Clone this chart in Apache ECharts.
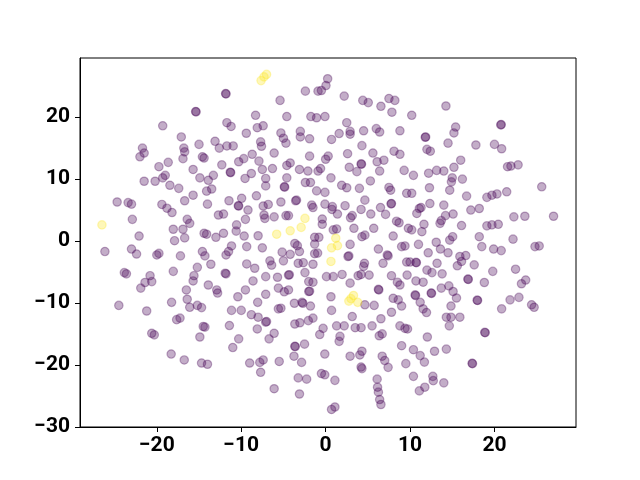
<!DOCTYPE html>
<html>
<head>
<meta charset="utf-8">
<script src="https://cdn.jsdelivr.net/npm/echarts@6/dist/echarts.min.js"></script>
<style>
  html, body { margin: 0; padding: 0; background: #fff; }
  #chart { width: 640px; height: 480px; }
</style>
</head>
<body>
<div id="chart"></div>
<script>
// two classes of an embedding
const purplePts = [
  [-11.85,23.8],[-11.8,23.75],[-15.4,20.9],[-15.35,20.85],[-19.3,18.6],[-11.7,19.1],[-11.2,18.5],[-9.4,17.4],[-17.1,16.8],
  [-21.7,15.0],[-21.5,14.2],[-22.0,13.6],[-16.8,15.0],[-16.7,14.4],[-15.0,15.6],[-13.1,16.1],[-12.6,15.0],[-11.7,15.35],
  [-10.95,15.35],[-16.9,13.3],[-14.6,13.6],[-14.4,13.4],[-18.65,12.7],[-19.75,12.0],[-15.7,11.55],[-12.3,12.3],[-10.3,12.8],
  [-9.7,13.3],[-11.3,11.1],[-11.25,11.05],[-19.0,10.6],[-13.3,10.6],
  [0.24,26.2],[0.04,25.1],[-2.4,24.2],[-0.9,24.2],[-0.5,24.3],[2.2,23.4],[-5.4,22.7],[4.4,22.7],[5.05,22.35],[7.5,23.0],
  [8.2,22.7],[6.55,21.75],[7.85,20.8],[10.2,20.3],[-8.3,20.3],[-4.6,20.1],[-1.75,20.1],[-1.07,19.9],[-0.08,20.1],[2.5,19.1],
  [-8.1,18.3],[-7.4,18.6],[-5.3,17.45],[-5.0,16.6],[-4.7,15.8],[-3.0,17.7],[-3.0,16.8],[-1.9,16.5],[0.7,16.4],[1.6,17.35],
  [2.9,17.7],[2.9,17.25],[4.5,17.8],[6.0,18.15],[6.4,17.6],[8.8,17.8],[-7.7,16.0],[-7.6,15.3],[-6.1,14.2],[-8.7,14.0],
  [-7.9,12.9],[-1.9,13.7],[0.3,13.7],[0.0,13.2],[2.6,14.1],[4.3,15.4],[5.6,14.2],[6.1,12.8],[6.9,13.05],[8.1,14.5],
  [8.8,14.0],[-4.6,12.2],[-4.2,12.6],[-6.3,11.7],[-7.5,11.55],[-3.1,11.55],[-2.1,11.3],[-0.9,11.3],[-0.6,11.7],[2.8,11.9],
  [4.2,12.45],[4.25,12.4],[3.7,11.2],[6.4,11.3],[9.3,11.4],[-8.8,10.9],[10.4,10.6],
  [14.25,21.8],[20.8,18.8],[20.75,18.75],[15.4,18.4],[15.2,17.45],[11.85,16.8],[11.8,16.75],[12.0,14.8],[12.4,14.5],[14.5,15.8],
  [17.8,15.5],[20.0,15.6],[20.85,14.9],[16.0,13.05],[15.2,11.9],[12.2,10.95],[13.15,11.4],[14.0,11.3],[21.55,12.0],[21.95,12.1],
  [22.8,12.3],
  [-21.5,9.65],[-20.2,9.65],[-19.3,10.2],[-18.45,9.0],[-17.4,8.5],[-14.9,10.2],[-13.9,9.8],[-13.5,8.4],[-14.1,8.05],[-9.55,10.1],
  [-24.7,6.3],[-23.4,6.2],[-23.0,5.95],[-22.9,3.5],[-22.1,0.8],[-26.15,-1.7],[-23.0,-1.3],[-22.4,-2.1],[-19.4,5.9],[-18.8,5.3],
  [-18.2,4.6],[-16.7,6.5],[-15.7,7.4],[-14.0,5.95],[-11.45,6.5],[-9.95,6.9],[-10.35,5.7],[-10.3,5.65],[-12.7,4.2],[-12.1,4.35],
  [-16.4,3.5],[-16.1,2.85],[-18.05,1.9],[-16.9,1.9],[-16.7,0.5],[-17.9,0.05],[-14.4,1.25],[-14.1,1.1],[-13.0,0.6],[-12.1,1.25],
  [-10.55,2.6],[-10.6,1.6],[-9.65,0.8],[-9.5,3.5],[-11.15,-0.8],[-17.2,-2.4],[-20.0,-2.25],[-19.75,-2.0],[-14.6,-1.7],[-14.3,-2.4],
  [-11.8,-2.25],[-11.5,-1.7],[-9.35,-0.9],[-15.2,-4.25],[-13.6,-3.75],[-23.85,-5.1],[-23.6,-5.3],[-20.8,-5.6],[-21.4,-6.7],[-20.6,-6.55],
  [-21.9,-7.6],[-18.05,-4.9],[-15.6,-5.6],[-15.7,-6.45],[-13.9,-7.1],[-11.9,-5.2],[-11.8,-5.3],[-16.5,-7.9],[-12.9,-7.9],[-12.8,-8.4],
  [-10.4,-9.0],[-9.5,-7.9],[-9.35,-3.7],
  [-7.1,10.1],[-7.1,8.9],[-4.6,10.2],[-2.4,9.45],[-1.8,9.45],[-1.07,8.1],[-0.08,7.85],[0.63,10.2],[1.9,9.0],[2.5,8.6],
  [4.0,8.5],[5.3,9.7],[7.5,8.65],[7.7,8.2],[9.6,7.7],[10.2,7.7],[-4.9,8.75],[-4.85,8.7],[-8.2,7.3],[-7.4,5.65],
  [-6.8,5.9],[-5.3,6.3],[-3.55,6.5],[-3.45,6.6],[-1.65,5.8],[-1.5,5.4],[-0.08,5.95],[0.8,5.55],[0.75,5.1],[2.3,5.7],
  [4.2,5.1],[4.65,6.6],[6.5,5.4],[7.8,6.05],[7.75,6.0],[-9.2,5.0],[-7.3,4.2],[-7.2,3.65],[-6.1,3.9],[-4.7,4.1],
  [-4.4,4.1],[-0.4,3.55],[-0.4,2.7],[1.4,4.35],[3.15,4.1],[2.95,3.75],[5.35,4.35],[7.1,4.3],[8.4,3.2],[8.7,2.95],
  [9.8,2.05],[10.2,1.8],[-8.0,0.85],[-1.3,0.6],[-0.8,0.6],[0.9,1.8],[1.3,1.95],[3.35,2.05],[4.3,0.7],[4.65,0.95],
  [5.7,2.05],[8.0,0.8],[-7.5,-1.1],[-3.65,-0.4],[-3.35,-0.75],[-5.15,-1.8],[-4.2,-2.15],[-3.1,-1.7],[-1.3,-0.5],[-1.3,-2.05],
  [-0.95,-1.95],[2.65,-2.5],[2.75,-2.4],[2.9,-0.55],[4.6,-3.6],[4.5,-4.1],[6.25,-1.3],[7.3,-2.25],[7.4,-2.4],[9.0,-0.9],
  [9.4,-0.8],[9.6,-3.4],[10.0,-3.4],[-6.6,-3.2],[-6.4,-3.9],[-5.0,-3.2],[-3.25,-3.6],[-2.65,-3.5],[-1.5,-3.75],[-7.1,-5.75],
  [-5.7,-5.85],[-8.4,-4.4],[-4.4,-5.5],[-4.3,-5.45],[-2.45,-5.1],[-2.0,-6.55],[-1.5,-6.65],[0.1,-5.75],[0.9,-5.75],[1.95,-5.4],
  [2.9,-6.8],[3.85,-5.6],[4.2,-5.4],[5.15,-5.5],[6.25,-7.8],[6.3,-7.9],[6.8,-3.6],[7.8,-5.6],[8.5,-6.65],[8.8,-7.1],
  [9.65,-5.5],[-8.6,-6.45],[-5.6,-7.6],[-4.9,-8.2],[-4.4,-7.9],[-7.1,-8.6],[-2.0,-8.15],[-1.9,-8.1],[0.63,-9.0],
  [15.0,10.2],[14.9,9.55],[14.7,8.2],[16.2,10.0],[12.3,8.6],[16.7,7.25],[19.1,7.05],[19.7,7.4],[20.3,7.6],[21.45,7.95],
  [25.6,8.75],[12.35,6.05],[11.1,5.25],[11.3,5.4],[14.0,5.8],[17.2,5.0],[18.2,5.25],[22.3,3.9],[23.6,4.0],[27.0,4.0],
  [10.8,4.45],[14.2,4.1],[15.1,4.35],[13.7,3.3],[13.55,2.85],[11.65,2.7],[16.1,2.5],[19.1,2.45],[19.7,2.6],[20.45,2.7],
  [11.4,1.5],[15.05,0.7],[14.7,0.15],[18.2,0.7],[22.2,0.3],[24.8,-0.9],[25.3,-0.8],[11.0,-0.55],[13.1,-0.2],[13.6,-1.3],
  [14.5,-1.9],[18.5,-0.9],[19.9,-1.3],[20.8,-1.55],[12.15,-1.9],[15.9,-2.5],[16.6,-2.35],[16.1,-3.3],[15.6,-4.0],[10.7,-3.45],
  [10.75,-3.5],[13.2,-3.6],[17.6,-3.85],[12.0,-4.7],[12.6,-5.1],[13.8,-5.3],[19.8,-4.9],[22.5,-4.55],[16.9,-6.2],[16.85,-6.15],
  [18.8,-6.7],[23.7,-6.3],[23.2,-6.9],[10.7,-6.45],[11.55,-6.65],[13.7,-7.6],[14.6,-7.25],[15.1,-8.15],[12.5,-8.4],[12.55,-8.45],
  [10.6,-8.7],[10.65,-8.8],
  [-24.5,-10.4],[-21.2,-11.3],[-18.25,-9.9],[-16.4,-9.4],[-16.1,-10.7],[-15.2,-10.4],[-14.7,-10.75],[-11.15,-11.2],[-10.0,-11.2],[-17.65,-12.7],
  [-17.25,-12.45],[-20.6,-14.9],[-20.3,-15.15],[-14.5,-13.8],[-14.3,-13.9],[-14.9,-15.5],[-11.4,-13.65],[-10.3,-15.8],[-11.0,-17.2],[-18.3,-18.25],
  [-16.75,-19.2],[-14.7,-19.7],[-14.0,-19.9],
  [-8.05,-9.9],[-3.7,-10.05],[-2.7,-10.05],[-2.8,-9.9],[-1.8,-10.5],[-5.6,-10.95],[-5.3,-10.85],[-8.8,-11.9],[-8.0,-12.3],[-7.1,-13.1],
  [-7.0,-13.0],[-8.1,-14.2],[-6.1,-14.9],[-6.7,-15.8],[-3.65,-13.4],[-3.05,-13.2],[-2.05,-12.85],[-1.5,-12.45],[0.7,-11.2],[4.65,-10.3],
  [5.75,-10.4],[8.0,-9.25],[8.6,-9.5],[9.0,-10.5],[7.8,-11.5],[6.55,-12.55],[3.15,-12.2],[1.3,-13.7],[2.2,-13.7],[3.5,-14.0],
  [4.2,-14.0],[5.5,-13.7],[8.8,-13.7],[9.4,-14.1],[9.7,-14.2],[6.35,-15.3],[6.7,-15.0],[-0.3,-14.1],[-0.7,-15.1],[1.7,-15.4],
  [1.6,-16.2],[-3.65,-17.0],[-3.6,-17.05],[-2.5,-16.65],[9.0,-16.9],[-0.1,-18.25],[-3.75,-18.6],[-2.85,-19.6],[2.9,-18.6],[4.05,-18.4],
  [4.3,-17.8],[6.7,-18.6],[7.0,-19.3],[7.4,-20.4],[4.2,-20.35],[4.3,-20.6],[9.5,-19.8],[-7.4,-19.2],[-7.8,-19.6],[-7.7,-21.2],
  [-9.0,-19.7],[-5.5,-19.45],[-0.5,-21.4],[-0.1,-21.6],[-3.25,-22.1],[-2.25,-22.3],[1.1,-22.5],[6.1,-22.3],[6.15,-23.6],[6.25,-24.4],
  [6.4,-25.6],[6.55,-26.4],[-6.1,-23.85],[-3.1,-24.7],[0.7,-27.2],[1.1,-26.8],
  [11.2,-9.9],[15.5,-9.2],[18.0,-9.6],[17.95,-9.55],[21.85,-9.5],[22.9,-9.1],[20.85,-10.95],[24.4,-10.3],[24.7,-10.7],[11.55,-10.95],
  [11.95,-11.55],[14.85,-10.5],[14.3,-12.3],[14.85,-12.3],[15.9,-12.3],[14.65,-13.7],[18.9,-14.8],[18.85,-14.75],[12.05,-15.5],[10.4,-17.55],
  [11.2,-18.5],[11.7,-19.55],[12.9,-17.8],[14.3,-17.45],[17.4,-19.8],[17.35,-19.75],[10.4,-21.85],[12.7,-21.85],[12.75,-22.55],[14.0,-22.9],
  [11.75,-23.6],[11.1,-24.2]
];

const yellowPts = [
  [-7.0,26.9],[-7.3,26.5],[-7.65,25.9],[-26.5,2.6],[-2.45,3.65],[-5.8,1.1],[-4.2,1.65],[-2.9,2.2],
  [1.2,0.45],[1.4,-0.75],[0.7,-1.1],[0.63,-3.3],[3.3,-8.8],[3.0,-9.3],[2.75,-9.7],[3.8,-9.9]
];

const xTicks = [-20, -10, 0, 10, 20];
const yTicks = [-30, -20, -10, 0, 10, 20];

const chart = echarts.init(document.getElementById('chart'), null, { renderer: 'canvas' });

const labelStyle = {
  color: '#000',
  fontFamily: 'Roboto',
  fontWeight: 'bold',
  fontSize: 21
};

function pointSeries(data, rgb) {
  return {
    type: 'scatter',
    data: data,
    symbol: 'circle',
    symbolSize: 8.4,
    silent: true,
    itemStyle: {
      color: 'rgba(' + rgb + ',0.4)',
      borderColor: 'rgba(' + rgb + ',0.4)',
      borderWidth: 1.2
    }
  };
}

chart.setOption({
  animation: false,
  backgroundColor: '#fff',
  grid: {
    left: 80, right: 64, top: 58, bottom: 53,
    show: true,
    borderColor: '#000',
    borderWidth: 1,
    backgroundColor: '#fff'
  },
  xAxis: {
    type: 'value',
    min: -29.1,
    max: 29.66,
    splitLine: { show: false },
    axisLine: { show: true, onZero: false, lineStyle: { color: '#000', width: 1 } },
    axisTick: { show: true, length: 5, customValues: xTicks, lineStyle: { color: '#000', width: 1 } },
    axisLabel: Object.assign({ margin: 8, customValues: xTicks,
      formatter: v => (v < 0 ? '\u2212' + Math.abs(v) : String(v)) }, labelStyle)
  },
  yAxis: {
    type: 'value',
    min: -30.03,
    max: 29.55,
    splitLine: { show: false },
    axisLine: { show: true, onZero: false, lineStyle: { color: '#000', width: 1 } },
    axisTick: { show: true, length: 5, customValues: yTicks, lineStyle: { color: '#000', width: 1 } },
    axisLabel: Object.assign({ margin: 10, customValues: yTicks,
      formatter: v => (v < 0 ? '\u2212' + Math.abs(v) : String(v)) }, labelStyle)
  },
  series: [
    pointSeries(purplePts, '68,1,84'),
    pointSeries(yellowPts, '253,231,37')
  ]
});

window.addEventListener('resize', function () {
  chart.resize();
});
</script>
</body>
</html>
